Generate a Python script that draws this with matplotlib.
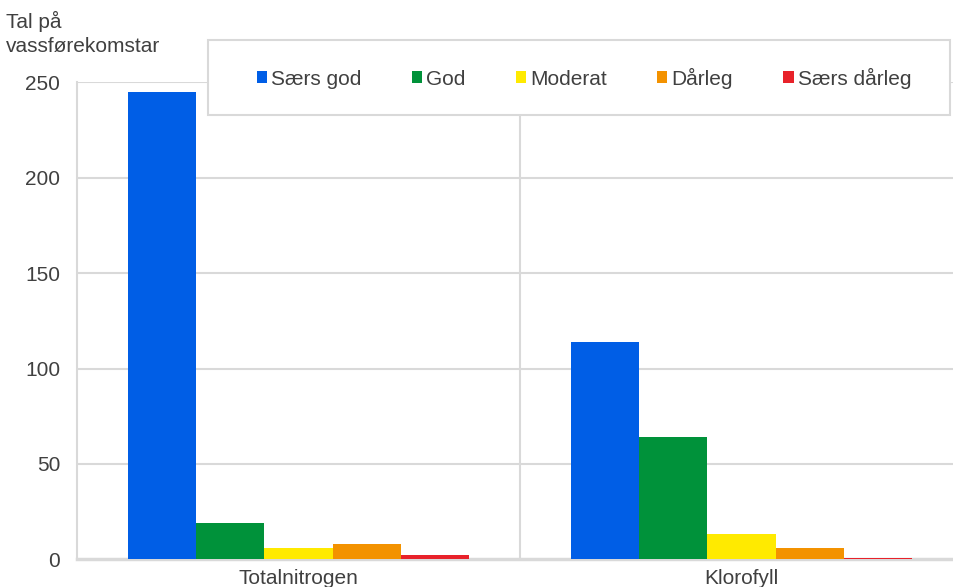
import numpy as np
import matplotlib
matplotlib.use('Agg')
import matplotlib.pyplot as plt
from matplotlib.patches import Rectangle, Patch

plt.rcParams['font.family'] = ['Liberation Sans', 'DejaVu Sans']

categories = ['Totalnitrogen', 'Klorofyll']
series = ['Særs god', 'God', 'Moderat', 'Dårleg', 'Særs dårleg']
values = {
    'Særs god': [245, 114],
    'God': [19, 64],
    'Moderat': [6, 13],
    'Dårleg': [8, 6],
    'Særs dårleg': [2, 0.5],
}
colors = ['#005ee6', '#00923a', '#ffea00', '#f39200', '#e8222a']
yticks = [0, 50, 100, 150, 200, 250]

grid_col = '#d9d9d9'
text_col = '#404040'

fig = plt.figure(figsize=(9.54, 5.87), dpi=100)
ax = fig.add_axes([77 / 954, 1 - 559.3 / 587, 1 - 77 / 954, (559.3 - 82.3) / 587])

x = np.arange(len(categories))
w = 0.1535
for i, name in enumerate(series):
    ax.bar(x + (i - 2) * w, values[name], width=w, color=colors[i], zorder=3)

ax.set_ylim(0, 250)
ax.set_xlim(-0.5, 1.5 - 9 / 443)
ax.set_yticks(yticks)
ax.set_xticks(x)
ax.set_xticklabels(categories)
for y in yticks[1:]:
    ax.axhline(y, color=grid_col, lw=1.5, zorder=1)
ax.axvline(0.5, color=grid_col, lw=1.5, zorder=1)

for s in ['top', 'right']:
    ax.spines[s].set_visible(False)
ax.spines['left'].set_color(grid_col)
ax.spines['left'].set_linewidth(1.5)
ax.spines['bottom'].set_color(grid_col)
ax.spines['bottom'].set_linewidth(2.5)
ax.spines['bottom'].set_zorder(2)
ax.tick_params(length=0, labelsize=15, labelcolor=text_col)
ax.tick_params(axis='y', pad=12)
ax.tick_params(axis='x', pad=7)

fig.text(0.006, 1 - 11 / 587, 'Tal på\nvassførekomstar', ha='left', va='top',
         fontsize=15, color=text_col, linespacing=1.3)

# legend box
fig.patches.append(Rectangle((208 / 954, 1 - 115 / 587), 742 / 954, 75 / 587,
                             transform=fig.transFigure, facecolor='white',
                             edgecolor=grid_col, lw=1.5, zorder=5))
handles = [Patch(facecolor=c, edgecolor='none') for c in colors]
leg = fig.legend(handles, series, loc='center', bbox_to_anchor=(584 / 954, 1 - 78 / 587),
                 ncol=5, frameon=False, fontsize=15, handlelength=0.5, handleheight=0.5,
                 handletextpad=0.2, columnspacing=2.4, labelcolor=text_col)
leg.set_zorder(6)

fig.savefig('out.png', dpi=100)
